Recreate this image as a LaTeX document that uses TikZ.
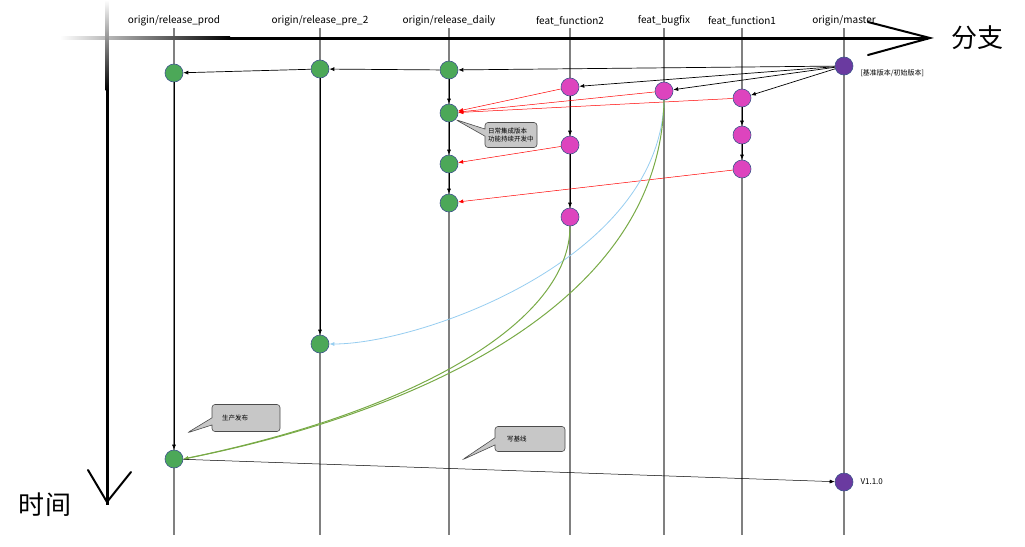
\documentclass[tikz,border=0pt]{standalone}
\usepackage{fontspec}
\setmainfont{Noto Sans CJK SC}
\usetikzlibrary{shapes.callouts,arrows.meta}

\definecolor{cgreen}{RGB}{76,168,88}
\definecolor{cpink}{RGB}{221,68,190}
\definecolor{cpurple}{RGB}{106,58,160}
\definecolor{cedge}{RGB}{62,84,140}
\definecolor{cblue}{RGB}{150,205,240}
\definecolor{cgrass}{RGB}{120,170,70}

\begin{document}
\begin{tikzpicture}[x=1pt,y=-1pt,
    commit/.style={circle,draw=cedge,line width=0.6pt,minimum size=18pt,inner sep=0pt},
    flow/.style={-{Latex[length=5pt,width=4pt]},line width=0.7pt},
    merge/.style={-{Latex[length=5pt,width=4pt]},red,line width=0.5pt},
    note/.style={rectangle callout,rounded corners=3pt,draw=black!70,fill=black!22,
        line width=0.6pt,font=\fontsize{6.5}{8}\selectfont,align=left,inner ysep=3pt},
    branch/.style={black!50,line width=1.6pt}]
\useasboundingbox (0,0) rectangle (1025,546);

% branch lines and names
\foreach \x/\name in {174/{origin/release\_prod},320/{origin/release\_pre\_2},
    449/{origin/release\_daily},570/{feat\_function2},664/{feat\_bugfix},
    742/{feat\_function1},844/{origin/master}}{
    \draw[branch] (\x,28) -- (\x,535);
    \node[font=\fontsize{10}{12}\selectfont] at (\x,21) {\name};
}

% axes
\shade[left color=white,right color=black] (60,36.5) rectangle (230,39.5);
\draw[black,line width=3pt] (230,38) -- (928,38);
\draw[black,line width=2pt,line cap=round] (868,22) -- (930,38) -- (868,55);
\node[font=\fontsize{26}{30}\selectfont] (fenzhi) at (977,38) {分支};
\shade[top color=white,bottom color=black] (105.5,0) rectangle (108.5,90);
\draw[black,line width=3pt] (107,90) -- (107,505);
\draw[black,line width=2pt,line cap=round] (88,470) -- (107,502) -- (131,472);
\node[font=\fontsize{26}{30}\selectfont] (shijian) at (45,505) {时间};

% commits
\node[commit,fill=cpurple] (m1) at (844,66) {};
\node[commit,fill=cgreen] (d1) at (449,70) {};
\node[commit,fill=cgreen] (p1) at (320,69) {};
\node[commit,fill=cgreen] (r1) at (174,73) {};
\node[commit,fill=cpink] (f2a) at (570,87) {};
\node[commit,fill=cpink] (bf) at (664,91) {};
\node[commit,fill=cpink] (f1a) at (742,98) {};
\node[commit,fill=cgreen] (d2) at (449,113) {};
\node[commit,fill=cpink] (f1b) at (742,135) {};
\node[commit,fill=cpink] (f2b) at (570,145) {};
\node[commit,fill=cgreen] (d3) at (449,164) {};
\node[commit,fill=cpink] (f1c) at (742,169) {};
\node[commit,fill=cgreen] (d4) at (449,203) {};
\node[commit,fill=cpink] (f2c) at (570,217) {};
\node[commit,fill=cgreen] (p2) at (320,344) {};
\node[commit,fill=cgreen] (r2) at (174,459) {};
\node[commit,fill=cpurple] (m2) at (844,482) {};

\node[anchor=west,font=\fontsize{7}{8}\selectfont] (base) at (857,73) {[基准版本/初始版本]};
\node[anchor=west,font=\fontsize{8}{9}\selectfont] (ver) at (857,482) {V1.1.0};

% branching off master
\draw[flow] (m1) -- (d1);
\draw[flow] (m1) -- (f2a);
\draw[flow] (m1) -- (bf);
\draw[flow] (m1) -- (f1a);
\draw[flow] (d1) -- (p1);
\draw[flow] (p1) -- (r1);

% commits along branches
\draw[flow] (d1) -- (d2);
\draw[flow] (d2) -- (d3);
\draw[flow] (d3) -- (d4);
\draw[flow] (f2a) -- (f2b);
\draw[flow] (f2b) -- (f2c);
\draw[flow] (f1a) -- (f1b);
\draw[flow] (f1b) -- (f1c);
\draw[flow] (p1) -- (p2);
\draw[flow] (r1) -- (r2);

% merges into daily
\draw[merge] (f2a) -- (d2);
\draw[merge] (bf) -- (d2);
\draw[merge] (f1a) -- (d2);
\draw[merge] (f2b) -- (d3);
\draw[merge] (f1c) -- (d4);

% merges into release
\draw[-{Latex[length=5pt,width=4pt]},cblue,line width=0.8pt]
    (bf.south) .. controls (660,260) and (420,344) .. (p2.east);
\draw[-{Latex[length=5pt,width=4pt]},cgrass,line width=1pt]
    (bf.south) .. controls (660,320) and (380,420) .. (r2.east);
\draw[-{Latex[length=5pt,width=4pt]},cgrass,line width=1pt]
    (f2c.south) .. controls (570,320) and (420,410) .. (r2.east);
\draw[flow,line width=0.5pt] (r2) -- (m2);

% notes
\node[note,inner xsep=3pt,text width=46pt,minimum height=25pt,
    callout absolute pointer={(d2.south east)}]
    (daily) at (511,135) {日常集成版本\\功能持续开发中};
\node[note,inner xsep=10pt,text width=48pt,minimum height=27pt,
    callout absolute pointer={(187,433)}]
    (prod) at (246,418) {生产发布};
\node[note,inner xsep=12pt,text width=46pt,minimum height=25pt,
    callout absolute pointer={(462,460)}]
    (line) at (530,439) {写基线};
\end{tikzpicture}
\end{document}
